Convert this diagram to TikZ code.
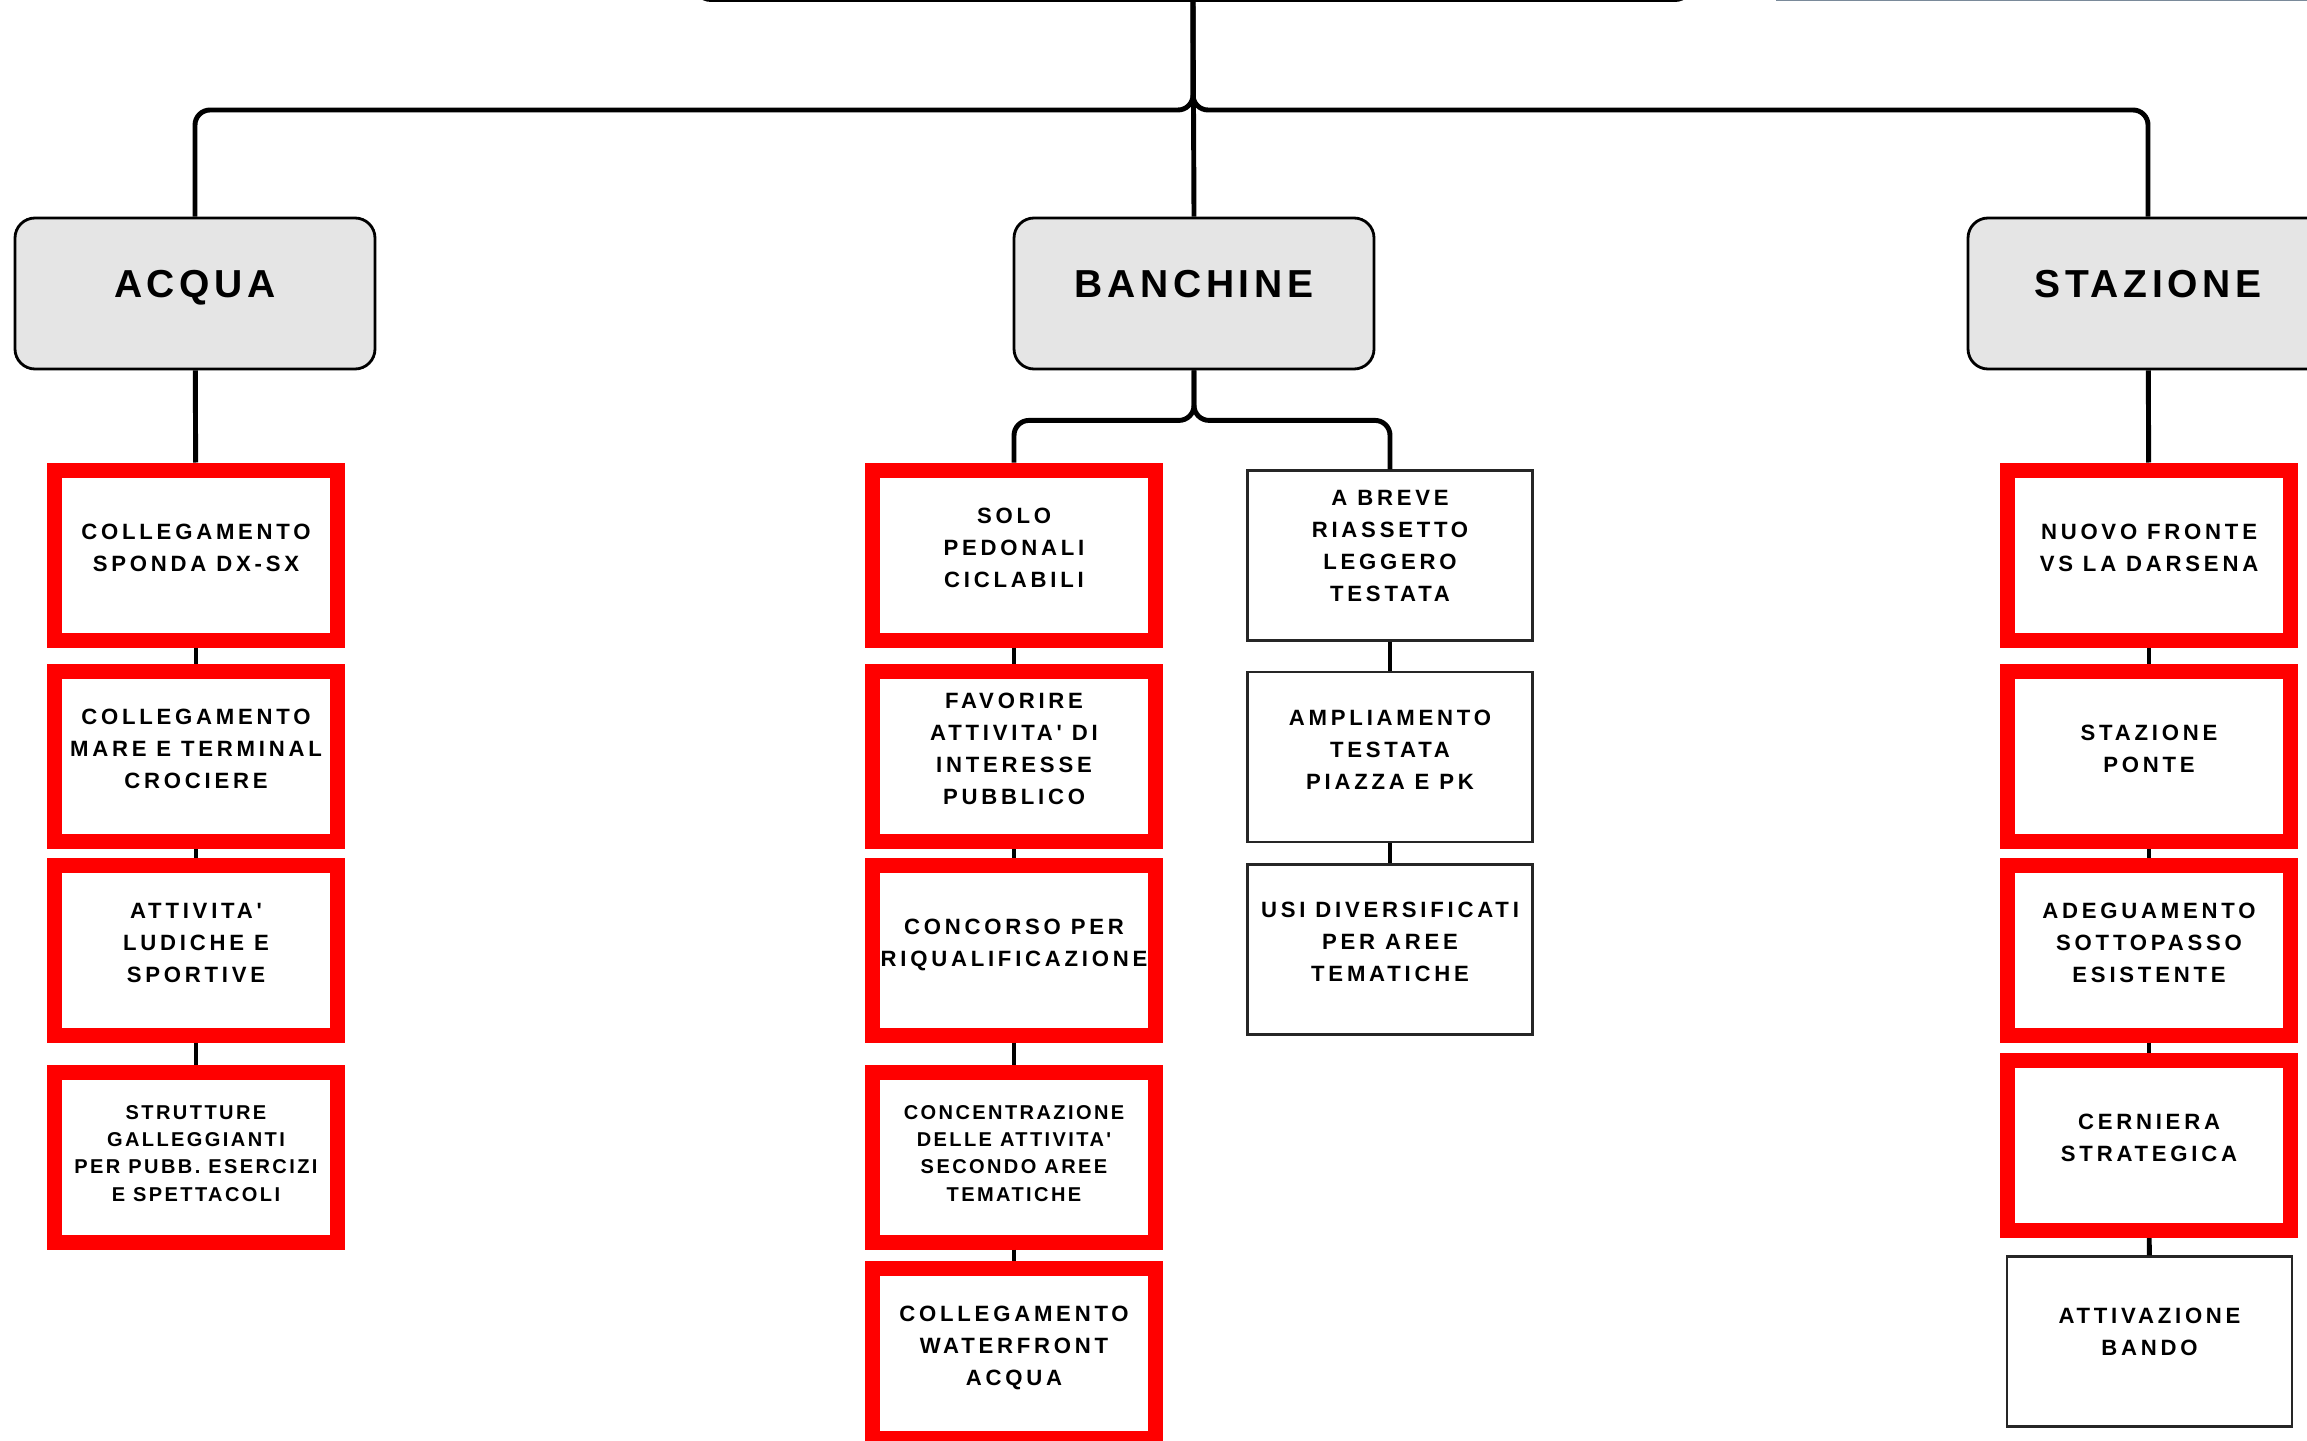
\documentclass[tikz,border=0pt]{standalone}
\usepackage{fontspec}
\setmainfont{Liberation Sans}
\newfontfamily\voce{Liberation Sans}[LetterSpace=17]
\newfontfamily\vocestretta{Liberation Sans}[LetterSpace=12]
\newfontfamily\titolo{Liberation Sans}[LetterSpace=12]
\usetikzlibrary{
	positioning,
	calc,
}
\definecolor{grigio}{HTML}{E5E5E5}
\definecolor{ardesia}{HTML}{7A8A9A}
% lines of a box, lifted a little above the middle
\newcommand{\righe}[2][0.06cm]{\raisebox{#1}[\height][\depth]{\begin{tabular}{@{}c@{}}#2\end{tabular}}}
\tikzset{categoria/.style={
		% The shape:
		rectangle,rounded corners=2mm,
		% The size:
		minimum width=3.6cm,minimum height=1.51cm,
		% The border:
		draw=black,line width=0.8pt,
		% The filling:
		fill=grigio,
		% the text
		font=\titolo\bfseries\fontsize{11.1}{13}\selectfont,
		text height=0.28cm,text depth=0.2cm,
}}
\tikzset{urgente/.style={
		% The shape:
		rectangle,
		% The size:
		minimum width=2.83cm,minimum height=1.70cm,inner sep=0pt,
		% The border:
		draw=red,line width=0.15cm,
		fill=white,
		% the text
		font=\voce\bfseries\fontsize{6.3}{9.1}\selectfont,
}}
\tikzset{stretta/.style={
		font=\vocestretta\bfseries\fontsize{5.7}{7.7}\selectfont,
}}
\tikzset{semplice/.style={
		% The shape:
		rectangle,
		% The size:
		minimum width=2.85cm,minimum height=1.70cm,inner sep=0pt,
		% The border:
		draw=black!85,line width=0.6pt,
		fill=white,
		% the text
		font=\voce\bfseries\fontsize{6.3}{9.1}\selectfont,
}}
\tikzset{ramo/.style={
		draw=black,line width=1.4pt,rounded corners=1.5mm,
}}
\begin{document}
\begin{tikzpicture}
	\useasboundingbox (0,0) rectangle (23.07,-14.41);
	\clip (0,0) rectangle (23.07,-14.41);
	% top boxes, cut by the page
	\node[categoria, anchor=south, minimum width=10.03cm, minimum height=1.5cm] (root) at (11.93,-0.02) {};
	\node[rectangle, draw=ardesia, line width=0.8pt, anchor=south west, minimum width=6cm, minimum height=1.5cm] (legenda) at (17.76,-0.01) {};
	% the three themes
	\node[categoria] (acqua) at (1.95,-2.935) {ACQUA};
	\node[categoria] (banchine) at (11.94,-2.935) {BANCHINE};
	\node[categoria] (stazione) at (21.48,-2.935) {STAZIONE};
	% acqua
	\node[urgente] (a1) at (1.96,-5.55) {\righe{COLLEGAMENTO\\SPONDA DX-SX}};
	\node[urgente] (a2) at (1.96,-7.565) {\righe{COLLEGAMENTO\\MARE E TERMINAL\\CROCIERE}};
	\node[urgente] (a3) at (1.96,-9.50) {\righe{ATTIVITA'\\LUDICHE E\\SPORTIVE}};
	\node[urgente, stretta] (a4) at (1.96,-11.57) {\righe[0.02cm]{STRUTTURE\\GALLEGGIANTI\\PER PUBB. ESERCIZI\\E SPETTACOLI}};
	% banchine
	\node[urgente] (b1) at (10.14,-5.55) {\righe{SOLO\\PEDONALI\\CICLABILI}};
	\node[urgente] (b2) at (10.14,-7.565) {\righe{FAVORIRE\\ATTIVITA' DI\\INTERESSE\\PUBBLICO}};
	\node[urgente] (b3) at (10.14,-9.50) {\righe{CONCORSO PER\\RIQUALIFICAZIONE}};
	\node[urgente, stretta] (b4) at (10.14,-11.57) {\righe[0.02cm]{CONCENTRAZIONE\\DELLE ATTIVITA'\\SECONDO AREE\\TEMATICHE}};
	\node[urgente] (b5) at (10.14,-13.53) {\righe{COLLEGAMENTO\\WATERFRONT\\ACQUA}};
	\node[semplice] (c1) at (13.90,-5.555) {\righe[0.08cm]{A BREVE\\RIASSETTO\\LEGGERO\\TESTATA}};
	\node[semplice] (c2) at (13.90,-7.57) {\righe{AMPLIAMENTO\\TESTATA\\PIAZZA E PK}};
	\node[semplice] (c3) at (13.90,-9.495) {\righe{USI DIVERSIFICATI\\PER AREE\\TEMATICHE}};
	% stazione
	\node[urgente] (s1) at (21.49,-5.55) {\righe{NUOVO FRONTE\\VS LA DARSENA}};
	\node[urgente] (s2) at (21.49,-7.565) {\righe{STAZIONE\\PONTE}};
	\node[urgente] (s3) at (21.49,-9.50) {\righe{ADEGUAMENTO\\SOTTOPASSO\\ESISTENTE}};
	\node[urgente] (s4) at (21.49,-11.455) {\righe{CERNIERA\\STRATEGICA}};
	\node[semplice] (s5) at (21.495,-13.415) {\righe[0.08cm]{ATTIVAZIONE\\BANDO}};
	% connectors
	\coordinate (nodoR) at (11.93,-1.10);
	\coordinate (nodoB) at ($(banchine.south)+(0,-0.5)$);
	\draw[ramo] (root.south) -- (nodoR) -| (acqua.north);
	\draw[ramo] (root.south) -- (nodoR) -| (stazione.north);
	\draw[ramo] (root.south) -- (banchine.north);
	\draw[ramo] (banchine.south) -- (nodoB) -| (b1.north);
	\draw[ramo] (banchine.south) -- (nodoB) -| (c1.north);
	\draw[ramo] (acqua) -- (a1);
	\draw[ramo] (stazione) -- (s1);
	\foreach \su/\giu in {a1/a2,a2/a3,a3/a4,b1/b2,b2/b3,b3/b4,b4/b5,c1/c2,c2/c3,s1/s2,s2/s3,s3/s4,s4/s5}
	\draw[ramo] (\su) -- (\giu);
\end{tikzpicture}
\end{document}
